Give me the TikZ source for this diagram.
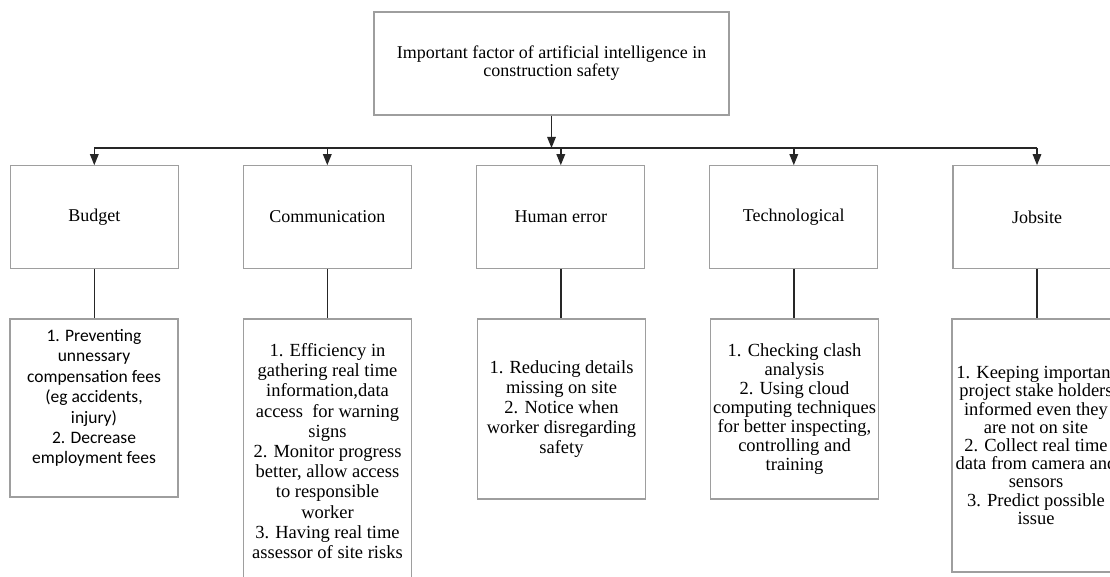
\documentclass[tikz,border=0pt]{standalone}
\usepackage{fontspec}
\setmainfont{Liberation Serif}
\newfontfamily\calib{Carlito}
\usetikzlibrary{arrows.meta}
\begin{document}
\begin{tikzpicture}[x=1pt,y=-1pt,
  box/.style={draw=black!38, line width=1.1pt, rectangle, inner sep=0pt, align=center},
  topbox/.style={box, minimum width=355pt, minimum height=103pt, font=\fontsize{18}{18}\selectfont},
  midbox/.style={box, minimum width=168pt, minimum height=102.5pt, font=\fontsize{18}{18}\selectfont},
  lowbox/.style={box, minimum width=168pt},
  conn/.style={draw=black!85, line width=1.4pt},
  arr/.style={conn, -{Triangle[length=11pt,width=8.5pt]}},
  busline/.style={draw=black!85, line width=2.4pt}
]
\fill[white] (0,0) rectangle (1110,577);
\useasboundingbox (0,0) rectangle (1110,577);

% top
\node[topbox] (top) at (551.5,63.5) {Important factor of artificial intelligence in\\construction safety};

% middle row
\node[midbox] (m1) at (94.3,217) {Budget};
\node[midbox] (m2) at (327.3,217) {Communication};
\node[midbox] (m3) at (560.8,217) {Human error};
\node[midbox] (m4) at (793.8,217) {Technological};
\node[midbox] (m5) at (1037,217) {Jobsite};

% lower row
\node[lowbox, minimum height=178pt] (l1) at (94,408) {};
\node[font=\calib\fontsize{17.5}{20.4}\selectfont, align=center] (t1) at ([yshift=10pt]l1.center)
  {1. Preventing\\unnessary\\compensation fees\\(eg accidents,\\injury)\\2. Decrease\\employment fees};
\node[lowbox, minimum height=264pt, font=\fontsize{18.5}{20.2}\selectfont] (l2) at (327.5,451)
  {1. Efficiency in\\gathering real time\\information,data\\access\ \ for warning\\signs\\2. Monitor progress\\better, allow access\\to responsible\\worker\\3. Having real time\\assessor of site risks};
\node[lowbox, minimum height=180pt, font=\fontsize{18.5}{20.2}\selectfont] (l3) at (561.5,409)
  {1. Reducing details\\missing on site\\2. Notice when\\worker disregarding\\safety};
\node[lowbox, minimum height=180pt, font=\fontsize{18.5}{19.1}\selectfont] (l4) at (794.5,409)
  {1. Checking clash\\analysis\\2. Using cloud\\computing techniques\\for better inspecting,\\controlling and\\training};
\node[lowbox, minimum height=253pt, font=\fontsize{18.5}{18.2}\selectfont] (l5) at (1036,445.5)
  {1. Keeping important\\project stake holders\\informed even they\\are not on site\\2. Collect real time\\data from camera and\\sensors\\3. Predict possible\\issue};

% connectors
\coordinate (bus) at (551.5,148);
\draw[arr] (top.south) -- (bus);
\draw[busline] (m1.north |- bus) -- (m5.north |- bus);
\foreach \m in {m1,m2,m3,m4,m5}{
  \draw[arr] (\m.north |- bus) -- (\m.north);
}
\draw[conn] (m1.south) -- (m1.south |- l1.north);
\draw[conn] (m2.south) -- (m2.south |- l2.north);
\draw[conn] (m3.south) -- (m3.south |- l3.north);
\draw[conn] (m4.south) -- (m4.south |- l4.north);
\draw[conn] (m5.south) -- (m5.south |- l5.north);
\end{tikzpicture}
\end{document}
